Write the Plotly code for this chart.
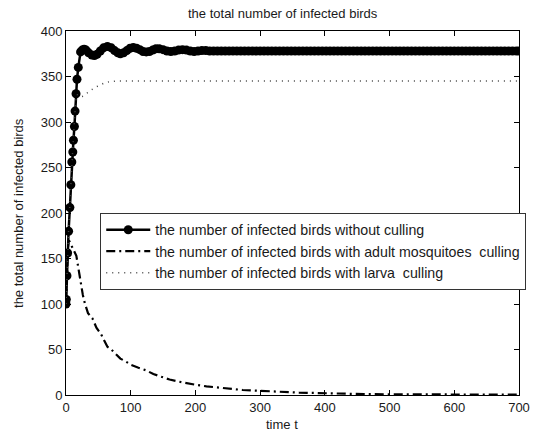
import plotly.graph_objects as go

# Infected birds without culling (solid line with markers)
t_none = [0, 0.5, 1.5, 2.5, 4, 6, 7.5, 9, 10.5, 11.5, 13, 14, 15.5, 17, 19, 22.5,
          25, 28, 31, 35, 40, 44, 48, 53, 58, 64, 70, 75, 80, 84, 89, 94, 99, 104,
          109, 114, 119, 124, 129, 134, 139, 144, 150, 156, 162, 168, 174, 180, 186,
          192, 198, 204, 210, 216, 222, 228, 234, 240, 246, 252, 258, 264, 270, 276,
          282, 288, 294, 300, 306, 312, 318, 324, 330, 336, 342, 348, 354, 360, 366,
          372, 378, 384, 390, 396, 402, 408, 414, 420, 426, 432, 438, 444, 450, 456,
          462, 468, 474, 480, 486, 492, 498, 504, 510, 516, 522, 528, 534, 540, 546,
          552, 558, 564, 570, 576, 582, 588, 594, 600, 606, 612, 618, 624, 630, 636,
          642, 648, 654, 660, 666, 672, 678, 684, 690, 696, 700]
v_none = [100, 105, 131, 156, 180, 206, 231, 256, 267, 280, 295, 312, 331, 347, 360, 377,
          379, 380, 379, 376, 373.5, 373, 374.5, 378, 381.5, 383, 381.5, 378.5, 376, 375,
          376, 378.5, 381, 382, 381, 379.5, 377.5, 377, 377.5, 379, 380.5, 380.5, 379.5,
          378, 377.5, 378, 379, 379.5, 379, 378, 377.5, 378, 378.5, 378.5, 378, 378, 378,
          378, 378, 378, 378, 378, 378, 378, 378, 378, 378, 378, 378, 378, 378, 378,
          378, 378, 378, 378, 378, 378, 378, 378, 378, 378, 378, 378, 378, 378, 378,
          378, 378, 378, 378, 378, 378, 378, 378, 378, 378, 378, 378, 378, 378, 378,
          378, 378, 378, 378, 378, 378, 378, 378, 378, 378, 378, 378, 378, 378, 378,
          378, 378, 378, 378, 378, 378, 378, 378, 378, 378, 378, 378, 378, 378, 378,
          378, 378, 378, 378]

# Infected birds with adult mosquitoes culling (dash-dot)
t_adult = [0, 1, 2, 3, 4.5, 6, 9, 13, 16, 19, 22, 26, 29, 34, 41, 47, 54, 60, 64, 70,
           77, 84, 92, 101, 112, 124, 135, 147, 160, 172, 186, 202, 217, 230, 245, 260,
           273, 288, 303, 320, 341, 360, 373, 400, 430, 460, 500, 550, 600, 650, 700]
v_adult = [100, 120, 145, 162, 170, 168, 163, 157, 153, 140, 126, 110, 101, 90, 84, 74,
           67, 58, 53, 50, 45, 40, 37, 33, 30, 27, 23, 20, 17, 15, 13, 11, 9.5, 8.5, 7.5,
           6.3, 5.5, 5, 4.4, 3.6, 3, 2.6, 2.4, 1.8, 1.3, 1, 0.8, 0.6, 0.5, 0.4, 0.3]

# Infected birds with larva culling (dotted)
t_larva = [0, 1, 2, 4, 6, 8, 10, 12, 14, 16, 18, 21, 25, 30, 36, 42, 48, 54, 61, 70, 80,
           100, 150, 200, 300, 400, 500, 600, 700]
v_larva = [100, 125, 150, 180, 210, 240, 265, 290, 312, 330, 330, 328, 328, 330, 334, 337,
           339, 341, 343.5, 344.5, 345, 345, 345, 345, 345, 345, 345, 345, 345]

x_ticks = [0, 100, 200, 300, 400, 500, 600, 700]
y_ticks = [0, 50, 100, 150, 200, 250, 300, 350, 400]

names = [
    "the number of infected birds without culling",
    "the number of infected birds with adult mosquitoes  culling",
    "the number of infected birds with larva  culling",
]

FONT = "Liberation Sans, Arial, Helvetica, sans-serif"
INK = "#1a1a1a"

fig = go.Figure()
fig.add_trace(go.Scatter(
    x=t_none, y=v_none, name=names[0], mode="lines+markers",
    line=dict(color="black", width=2.5),
    marker=dict(symbol="circle", size=9, color="black"),
))
fig.add_trace(go.Scatter(
    x=t_adult, y=v_adult, name=names[1], mode="lines",
    line=dict(color="black", width=2.2, dash="9px,4px,2px,4px"),
))
fig.add_trace(go.Scatter(
    x=t_larva, y=v_larva, name=names[2], mode="lines",
    line=dict(color="#444444", width=1.5, dash="1px,5px"),
))

axis_common = dict(
    showgrid=False, zeroline=False, showline=True, linecolor="black", linewidth=1,
    mirror="ticks", ticks="inside", ticklen=5, tickcolor="black",
    tickfont=dict(family=FONT, size=13, color=INK),
)
fig.update_xaxes(range=[0, 700], tickvals=x_ticks, **axis_common)
fig.update_yaxes(range=[0, 400], tickvals=y_ticks, **axis_common)

fig.update_layout(
    width=542, height=433,
    margin=dict(l=66, r=13, t=31, b=38),
    plot_bgcolor="white", paper_bgcolor="white",
    font=dict(family=FONT, size=13, color=INK),
    showlegend=True,
    legend=dict(
        x=0.0756, y=0.5, xanchor="left", yanchor="top",
        bgcolor="white", bordercolor="#333333", borderwidth=1,
        font=dict(family=FONT, size=14.2, color=INK),
        tracegroupgap=0, itemwidth=44,
    ),
    annotations=[
        dict(text="the total number of infected birds", xref="paper", yref="paper",
             x=0.478, y=1.047, xanchor="center", yanchor="middle", showarrow=False,
             font=dict(family=FONT, size=13, color=INK)),
        dict(text="time t", xref="paper", yref="paper",
             x=0.477, y=-0.082, xanchor="center", yanchor="middle", showarrow=False,
             font=dict(family=FONT, size=13, color=INK)),
        dict(text="the total number of infected birds", xref="paper", yref="paper",
             x=-0.106, y=0.5, xanchor="center", yanchor="middle", showarrow=False,
             textangle=-90, font=dict(family=FONT, size=13, color=INK)),
    ],
)

fig.write_html("out.html")
